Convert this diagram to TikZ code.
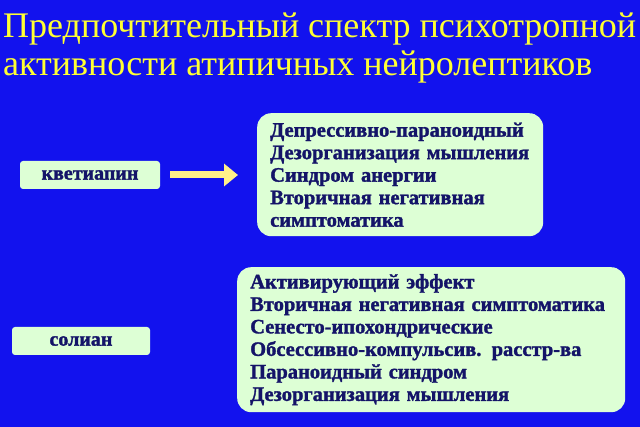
\documentclass[tikz,border=0pt]{standalone}
\usepackage{fontspec}
\setmainfont{Liberation Serif}
\newfontfamily\heavy[BoldFont={Liberation Serif Bold},BoldFeatures={FakeBold=1.5}]{Liberation Serif}
\usetikzlibrary{positioning,arrows.meta}
\definecolor{bg}{HTML}{1212EE}
\definecolor{boxfill}{HTML}{DDFFD5}
\definecolor{ink}{HTML}{141468}
\definecolor{ttl}{HTML}{FFFF33}
\definecolor{arr}{HTML}{FFF08A}
\begin{document}
\begin{tikzpicture}[x=1pt,y=-1pt
		,drug/.style={fill=boxfill, rounded corners=3pt, font=\heavy\bfseries\fontsize{20}{22}\selectfont, text=ink, minimum height=28pt, inner sep=2pt}
		,list/.style={fill=boxfill, rounded corners=14pt, font=\heavy\bfseries\fontsize{20.5}{22.5}\selectfont, text=ink, align=left, inner sep=0pt}
	]
		\fill[bg] (0,0) rectangle (640,427);
		\useasboundingbox (0,0) rectangle (640,427);
		\node[anchor=west, text=ttl, font=\fontsize{36}{38}\selectfont, align=left, inner sep=0pt] (T) at (3,48) {Предпочтительный спектр психотропной\\активности атипичных нейролептиков};

		\node[drug, minimum width=140pt] (K) at (90,175) {кветиапин};
		\node[list, minimum width=286pt, minimum height=123pt, text width=276pt, anchor=north west] (L1) at (257,113) {\hspace*{8pt}Депрессивно-параноидный\\\hspace*{8pt}Дезорганизация мышления\\\hspace*{8pt}Синдром анергии\\\hspace*{8pt}Вторичная негативная\\\hspace*{8pt}симптоматика};
		\node[drug, minimum width=138pt] (S) at (81,341) {солиан};
		\node[list, minimum width=388pt, minimum height=145pt, text width=378pt, anchor=north west] (L2) at (237,267) {\hspace*{8pt}Активирующий эффект\\\hspace*{8pt}Вторичная негативная симптоматика\\\hspace*{8pt}Сенесто-ипохондрические\\\hspace*{8pt}Обсессивно-компульсив. расстр-ва\\\hspace*{8pt}Параноидный синдром\\\hspace*{8pt}Дезорганизация мышления};

		\coordinate (a0) at (170,175);
		\coordinate (a1) at (238,175);
		\draw[arr, line width=7pt, -{Triangle[length=14pt,width=22pt]}] (a0) -- (a1);
	\end{tikzpicture}
\end{document}
